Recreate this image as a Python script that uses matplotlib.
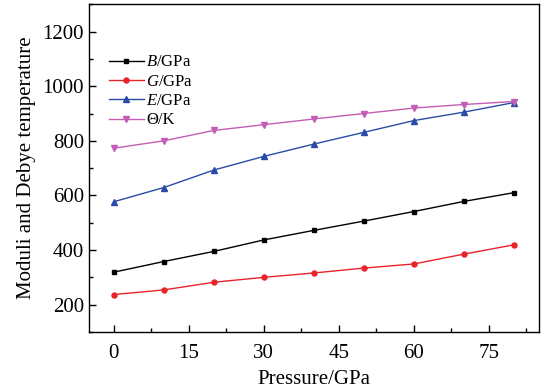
import matplotlib
matplotlib.use("Agg")
import matplotlib.pyplot as plt
from matplotlib.ticker import MultipleLocator

plt.rcParams["font.family"] = ["Liberation Serif", "DejaVu Serif"]
plt.rcParams["mathtext.fontset"] = "custom"
plt.rcParams["mathtext.rm"] = "Liberation Serif"
plt.rcParams["mathtext.it"] = "Liberation Serif:italic"

pressure = [0, 10, 20, 30, 40, 50, 60, 70, 80]
bulk = [319, 358, 395, 437, 472, 506, 541, 578, 610]
shear = [237, 254, 282, 300, 316, 334, 349, 385, 419]
young = [577, 629, 693, 743, 788, 831, 874, 905, 940]
debye = [773, 800, 838, 859, 880, 900, 920, 933, 944]

labels = ["$B$/GPa", "$G$/GPa", "$E$/GPa", "Θ/K"]
x_ticks = [0, 15, 30, 45, 60, 75]
y_ticks = [200, 400, 600, 800, 1000, 1200]

fig = plt.figure(figsize=(5.52, 3.91), dpi=100)
ax = fig.add_axes([0.161, 0.151, 0.815, 0.838])

series = [
    (bulk, "black", "s", 3.2),
    (shear, "#e8232b", "o", 3.6),
    (young, "#2a4ca6", "^", 4.5),
    (debye, "#c35db5", "v", 4.5),
]
for (vals, color, marker, ms), lab in zip(series, labels):
    ax.plot(pressure, vals, color=color, marker=marker, markersize=ms,
            linewidth=1.0, label=lab)

ax.set_xlim(-5, 85)
ax.set_ylim(100, 1300)
ax.set_xticks(x_ticks)
ax.set_yticks(y_ticks)
ax.xaxis.set_minor_locator(MultipleLocator(7.5))
ax.yaxis.set_minor_locator(MultipleLocator(100))
ax.tick_params(which="both", direction="in", top=False, right=False,
               labelsize=15, width=1.0)
ax.tick_params(which="major", length=5)
ax.tick_params(which="minor", length=3)
ax.tick_params(axis="x", pad=9)
for sp in ax.spines.values():
    sp.set_linewidth(1.0)

ax.set_xlabel("Pressure/GPa", fontsize=15, labelpad=5)
ax.set_ylabel("Moduli and Debye temperature", fontsize=15, labelpad=5)

ax.legend(loc="upper left", bbox_to_anchor=(0.044, 0.847), frameon=False,
          fontsize=12, handlelength=2.1, handletextpad=0.15,
          labelspacing=0.2, borderpad=0, borderaxespad=0)

fig.savefig("out.png", dpi=100)
